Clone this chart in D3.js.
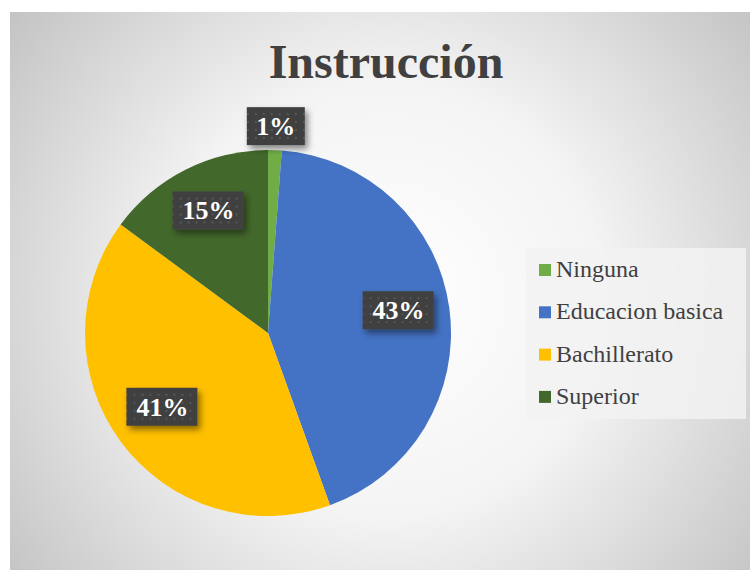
<!DOCTYPE html>
<html lang="es">
<head>
    <meta charset="UTF-8">
    <title>Instrucción</title>
    <script src="https://cdnjs.cloudflare.com/ajax/libs/d3/7.8.5/d3.min.js"></script>
    <style>
        body{ margin: 0; background: #fff; }
        svg{ display: block; }
    </style>
</head>
<body>
<svg id="chart"></svg>
<script>
    // datos
    var categories = ['Ninguna', 'Educacion basica', 'Bachillerato', 'Superior'];
    var values = [1.2, 43.3, 40.6, 14.9];
    var labels = ['1%', '43%', '41%', '15%'];
    var colors = ['#70ad47', '#4472c4', '#ffc000', '#43682b'];

    var width = 750, height = 570;
    var cx = 268, cy = 333, radius = 183;
    var serif = '"Liberation Serif", "Times New Roman", serif';

    var svg = d3.select('#chart').attr('width', width).attr('height', height);
    var defs = svg.append('defs');

    // fondo con degradado radial
    var grad = defs.append('radialGradient')
        .attr('id', 'bg').attr('gradientUnits', 'userSpaceOnUse')
        .attr('cx', 385).attr('cy', 300).attr('r', 480);
    grad.append('stop').attr('offset', 0).attr('stop-color', '#ffffff');
    grad.append('stop').attr('offset', 0.45).attr('stop-color', '#f4f4f4');
    grad.append('stop').attr('offset', 1).attr('stop-color', '#c2c2c2');

    // patron de puntos para las etiquetas
    var pat = defs.append('pattern').attr('id', 'dots')
        .attr('patternUnits', 'userSpaceOnUse').attr('width', 8).attr('height', 8);
    pat.append('rect').attr('width', 8).attr('height', 8).attr('fill', '#404040');
    pat.append('rect').attr('x', 3).attr('y', 3).attr('width', 2).attr('height', 2).attr('fill', '#575757');

    var shadow = defs.append('filter').attr('id', 'shadow')
        .attr('x', '-30%').attr('y', '-30%').attr('width', '170%').attr('height', '180%');
    shadow.append('feDropShadow').attr('dx', 3).attr('dy', 4).attr('stdDeviation', 3)
        .attr('flood-color', '#000').attr('flood-opacity', 0.45);

    svg.append('rect').attr('x', 10).attr('y', 12)
        .attr('width', width - 10).attr('height', height - 12)
        .attr('fill', 'url(#bg)');

    // titulo
    svg.append('text')
        .attr('x', 386).attr('y', 78)
        .attr('text-anchor', 'middle')
        .style('font-family', serif)
        .style('font-weight', 'bold')
        .style('font-size', '48px')
        .attr('fill', '#404040')
        .text('Instrucción');

    // pastel
    var pie = d3.pie().sort(null).value(function (d) { return d; });
    var arcs = pie(values);
    var arc = d3.arc().innerRadius(0).outerRadius(radius);

    var g = svg.append('g').attr('transform', 'translate(' + cx + ',' + cy + ')');
    g.selectAll('path')
        .data(arcs)
        .enter()
        .append('path')
        .attr('d', arc)
        .attr('fill', function (d, i) { return colors[i]; });

    // etiquetas
    var inArc = d3.arc().innerRadius(radius * 0.72).outerRadius(radius * 0.72);
    var outArc = d3.arc().innerRadius(radius + 24).outerRadius(radius + 24);

    var lab = g.selectAll('g.lab')
        .data(arcs)
        .enter()
        .append('g')
        .attr('class', 'lab')
        .attr('transform', function (d) {
            var small = (d.endAngle - d.startAngle) < 0.2;
            var c = small ? outArc.centroid(d) : inArc.centroid(d);
            return 'translate(' + c[0] + ',' + (small ? c[1] : c[1] - 5) + ')';
        });

    lab.append('rect')
        .attr('x', function (d, i) { return labels[i].length < 3 ? -29 : -36; })
        .attr('y', -19)
        .attr('width', function (d, i) { return labels[i].length < 3 ? 58 : 71; })
        .attr('height', 38)
        .attr('fill', 'url(#dots)')
        .attr('filter', 'url(#shadow)');

    lab.append('text')
        .attr('text-anchor', 'middle')
        .attr('dy', 9)
        .style('font-family', serif)
        .style('font-weight', 'bold')
        .style('font-size', '26px')
        .attr('fill', '#ffffff')
        .text(function (d, i) { return labels[i]; });

    // leyenda
    svg.append('rect').attr('x', 526).attr('y', 248).attr('width', 220).attr('height', 171)
        .attr('fill', '#f2f2f2').attr('fill-opacity', 0.85);

    var leg = svg.selectAll('g.leg')
        .data(categories)
        .enter()
        .append('g')
        .attr('class', 'leg')
        .attr('transform', function (d, i) { return 'translate(539,' + (277 + i * 42.3) + ')'; });

    leg.append('rect')
        .attr('x', 0).attr('y', -13).attr('width', 12).attr('height', 12)
        .attr('fill', function (d, i) { return colors[i]; });

    leg.append('text')
        .attr('x', 17)
        .style('font-family', serif)
        .style('font-size', '24px')
        .attr('fill', '#404040')
        .text(function (d) { return d; });
</script>
</body>
</html>
